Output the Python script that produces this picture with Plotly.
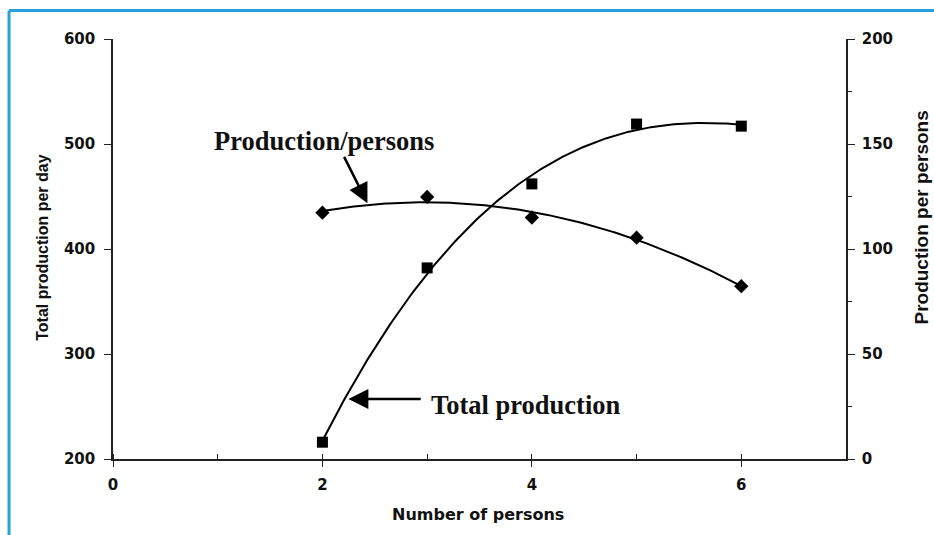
import numpy as np
import plotly.graph_objects as go

# Data
persons = [2, 3, 4, 5, 6]
total_production = [216, 382, 462, 519, 517]        # left axis, per day
production_per_person = [117.3, 124.8, 115.0, 105.4, 82.3]  # right axis

x_ticks = [0, 2, 4, 6]
y_left_ticks = [200, 300, 400, 500, 600]
y_right_ticks = [0, 50, 100, 150, 200]

W, H = 934, 535
M_L, M_R, M_T, M_B = 112.5, 88.25, 38.5, 76

AXIS_FONT = dict(family="DejaVu Sans", size=15, color="#111111", weight="bold")
TITLE_FONT = dict(family="Liberation Sans", size=16, color="#111111")
LABEL_FONT = dict(family="Liberation Serif", size=26.5, color="#111111")

# Polynomial trendlines fitted to each series
xs = np.linspace(min(persons), max(persons), 200)
fit_total = np.polyval(np.polyfit(persons, total_production, 3), xs)
fit_pp = np.polyval(np.polyfit(persons, production_per_person, 2), xs)

fig = go.Figure()
fig.add_trace(go.Scatter(x=xs, y=fit_total, mode="lines",
                         line=dict(color="black", width=2), yaxis="y",
                         hoverinfo="skip"))
fig.add_trace(go.Scatter(x=persons, y=total_production, mode="markers",
                         marker=dict(symbol="square", size=11, color="black"),
                         yaxis="y"))
fig.add_trace(go.Scatter(x=xs, y=fit_pp, mode="lines",
                         line=dict(color="black", width=2), yaxis="y2",
                         hoverinfo="skip"))
fig.add_trace(go.Scatter(x=persons, y=production_per_person, mode="markers",
                         marker=dict(symbol="diamond", size=11, color="black"),
                         yaxis="y2"))

axis_common = dict(showgrid=False, zeroline=False, showline=True,
                   linecolor="#222222", linewidth=1.5, tickcolor="#222222",
                   tickwidth=1.2, tickfont=AXIS_FONT)

fig.update_layout(
    width=W, height=H,
    margin=dict(l=M_L, r=M_R, t=M_T, b=M_B, pad=0),
    paper_bgcolor="white", plot_bgcolor="white",
    showlegend=False,
    xaxis=dict(range=[0, 7], tickvals=x_ticks, ticks="outside", ticklen=6,
               ticklabelstandoff=5,
               minor=dict(dtick=1, ticks="inside", ticklen=5,
                          tickcolor="#222222", tickwidth=1.2),
               **axis_common),
    yaxis=dict(range=[200, 600], tickvals=y_left_ticks, ticks="outside",
               ticklen=7, ticklabelstandoff=6, **axis_common),
    yaxis2=dict(range=[0, 200], tickvals=y_right_ticks, ticks="outside",
                ticklen=7, ticklabelstandoff=4, overlaying="y", side="right",
                minor=dict(dtick=25, ticks="outside", ticklen=4,
                           tickcolor="#222222", tickwidth=1.2),
                **axis_common),
)

pw = W - M_L - M_R
ph = H - M_T - M_B


def px(xp):
    return (xp - M_L) / pw


def py(yp):
    return (H - M_B - yp) / ph


def text_note(text, xp, yp, font, xanchor="center", angle=0):
    fig.add_annotation(text=text, xref="paper", yref="paper",
                       x=px(xp), y=py(yp), xanchor=xanchor, yanchor="middle",
                       textangle=angle, showarrow=False, font=font)


# Axis titles
text_note("<b>Number of persons</b>", 478, 515,
          dict(family="DejaVu Sans", size=16, color="#111111"))
text_note("<b>Total production per day</b>", 42, 248, TITLE_FONT, angle=-90)
text_note("<b>Production per persons</b>", 921, 217,
          dict(TITLE_FONT, size=19), angle=-90)

# Callout labels with arrows
text_note("<b>Production/persons</b>", 212, 141, LABEL_FONT, xanchor="left")
fig.add_annotation(x=2.43, y=443.5, ax=2.20, ay=489.2, xref="x", yref="y",
                   axref="x", ayref="y", text="", showarrow=True,
                   arrowhead=2, arrowsize=1.6, arrowwidth=2.5,
                   arrowcolor="black")
text_note("<b>Total production</b>", 429, 405, LABEL_FONT, xanchor="left")
fig.add_annotation(x=2.248, y=257.1, ax=2.953, ay=257.1, xref="x", yref="y",
                   axref="x", ayref="y", text="", showarrow=True,
                   arrowhead=2, arrowsize=1.6, arrowwidth=2.5,
                   arrowcolor="black")

# Blue frame along the top and left edges
BLUE = "#2a9fd9"
fig.add_shape(type="line", xref="paper", yref="paper",
              x0=px(8.5), x1=px(W), y0=py(10), y1=py(10),
              line=dict(color=BLUE, width=3))
fig.add_shape(type="line", xref="paper", yref="paper",
              x0=px(8.5), x1=px(8.5), y0=py(10), y1=py(H),
              line=dict(color=BLUE, width=3))

fig.write_html("out.html")
